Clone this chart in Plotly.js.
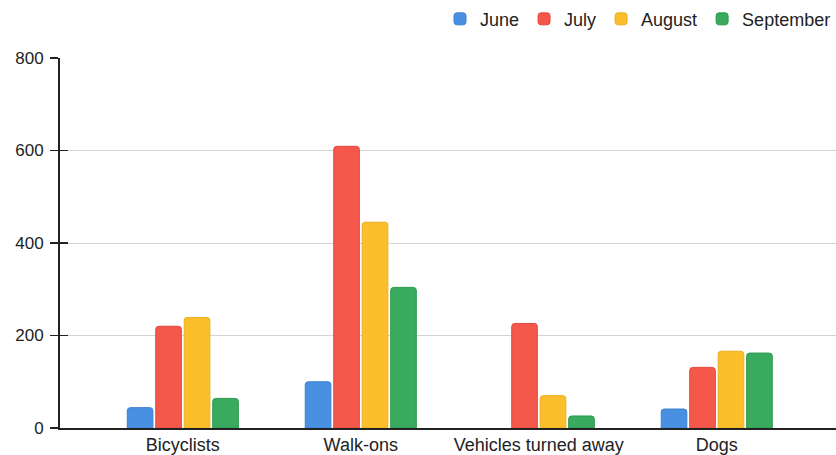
<!DOCTYPE html>
<html>
<head>
<meta charset="utf-8">
<script src="https://cdn.plot.ly/plotly-3.0.1.min.js"></script>
<style>html,body{margin:0;padding:0;background:#fff}#chart{width:836px;height:455px}</style>
</head>
<body>
<div id="chart"></div>
<script>
const categories = ["Bicyclists", "Walk-ons", "Vehicles turned away", "Dogs"];
const seriesNames = ["June", "July", "August", "September"];
const june = [44, 100, null, 41];
const july = [220, 609, 226, 131];
const august = [239, 445, 70, 166];
const september = [64, 304, 26, 162];
const yTicks = [0, 200, 400, 600, 800];

const colors = ["#4a90e2", "#f4584b", "#fbbf2c", "#3aaa5f"];
const edge = ["#3a80d2", "#e4483b", "#ebaf1c", "#2a9a4f"];
const values = [june, july, august, september];

const traces = values.map((v, i) => ({
  type: "bar",
  name: seriesNames[i],
  x: categories,
  y: v,
  marker: { color: colors[i], line: { color: edge[i], width: 1 } },
  hoverinfo: "skip"
}));
// invisible trace to draw inside tick marks
traces.push({ type: "scatter", x: [categories[0]], y: [0], yaxis: "y2", mode: "markers",
  marker: { opacity: 0 }, showlegend: false, hoverinfo: "skip" });

const layout = {
  width: 836, height: 455,
  margin: { l: 60, r: 0, t: 58, b: 27, autoexpand: false },
  paper_bgcolor: "#fff", plot_bgcolor: "#fff",
  font: { family: "Liberation Sans, Arial, sans-serif", size: 17, color: "#222" },
  barmode: "group",
  bargap: 0.36,
  bargroupgap: 0.1,
  barcornerradius: 3,
  showlegend: true,
  legend: { orientation: "h", x: 1, xanchor: "right", y: 1.155, yanchor: "top",
    font: { size: 18, color: "#222" }, itemwidth: 30, traceorder: "normal", bgcolor: "rgba(0,0,0,0)" },
  xaxis: {
    type: "category", range: [-0.69, 3.67],
    showline: true, linecolor: "#222", linewidth: 1.5,
    ticks: "", showgrid: false, zeroline: false, fixedrange: true,
    tickfont: { size: 18, color: "#222" }, automargin: false
  },
  yaxis: {
    range: [0, 800], tickvals: yTicks, ticktext: yTicks.map(String),
    showline: true, linecolor: "#222", linewidth: 2,
    ticks: "outside", ticklen: 8, tickwidth: 1.5, tickcolor: "#222",
    showgrid: true, gridcolor: "#d4d4d4", gridwidth: 1, zeroline: false,
    tickfont: { size: 17, color: "#222" }, ticklabelstandoff: 3, automargin: false
  },
  yaxis2: {
    overlaying: "y", side: "left", range: [0, 800], tickvals: yTicks,
    showticklabels: false, ticks: "inside", ticklen: 8, tickwidth: 1.5, tickcolor: "#222",
    showgrid: false, zeroline: false, showline: false
  }
};

Plotly.newPlot("chart", traces, layout, { displayModeBar: false, staticPlot: true });
</script>
</body>
</html>
